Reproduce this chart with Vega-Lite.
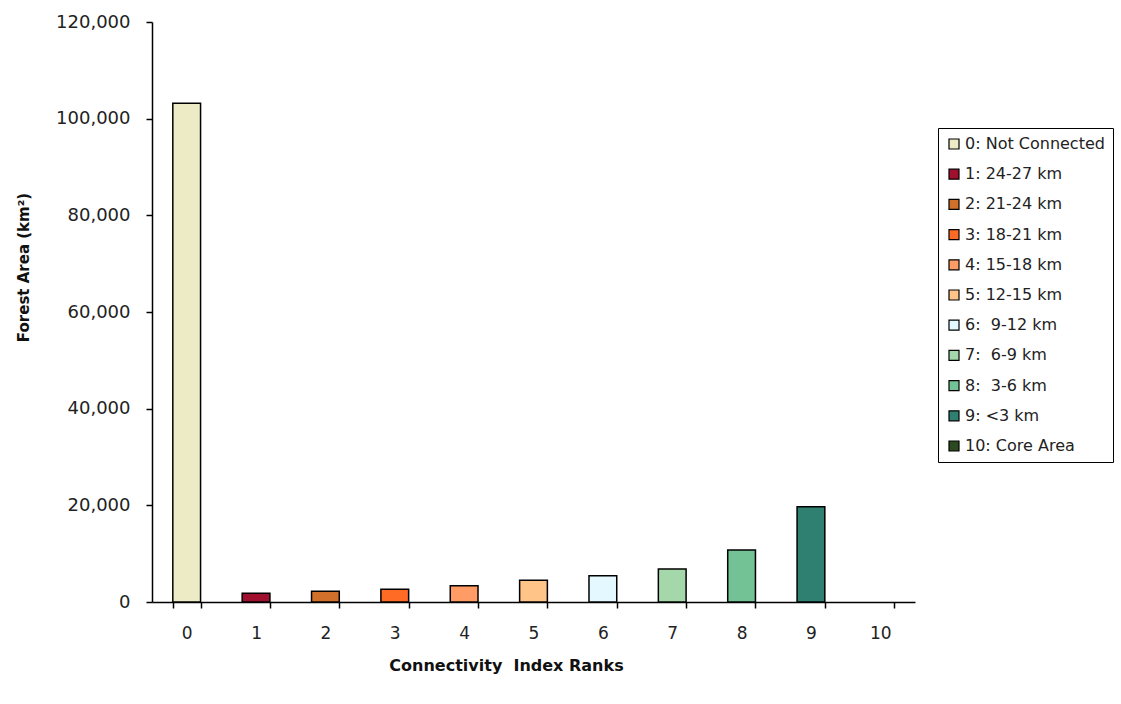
{
  "$schema": "https://vega.github.io/schema/vega-lite/v6.json",
  "width": 763,
  "height": 580,
  "autosize": "none",
  "padding": {"left": 152, "top": 22, "right": 206, "bottom": 102},
  "background": "white",
  "config": {
    "view": {"stroke": null},
    "font": "DejaVu Sans",
    "axis": {"grid": false, "domainColor": "black", "tickColor": "black", "labelColor": "#222", "titleColor": "#111", "labelFont": "DejaVu Sans", "titleFont": "DejaVu Sans", "labelFontSize": 17, "titleFontSize": 15, "titleFontWeight": "bold", "domainWidth": 1.5, "tickWidth": 1.5, "tickSize": 6}
  },
  "data": {
    "values": [
      {"rank": "0", "label": "0: Not Connected", "area": 103200},
      {"rank": "1", "label": "1: 24-27 km", "area": 1800},
      {"rank": "2", "label": "2: 21-24 km", "area": 2250},
      {"rank": "3", "label": "3: 18-21 km", "area": 2650},
      {"rank": "4", "label": "4: 15-18 km", "area": 3350},
      {"rank": "5", "label": "5: 12-15 km", "area": 4500},
      {"rank": "6", "label": "6:\u00a0 9-12 km", "area": 5450},
      {"rank": "7", "label": "7:\u00a0 6-9 km", "area": 6850},
      {"rank": "8", "label": "8:\u00a0 3-6 km", "area": 10750},
      {"rank": "9", "label": "9: <3 km", "area": 19700},
      {"rank": "10", "label": "10: Core Area", "area": 0}
    ]
  },
  "mark": {"type": "bar", "stroke": "black", "strokeWidth": 1.5},
  "encoding": {
    "x": {
      "field": "rank", "type": "ordinal",
      "sort": ["0","1","2","3","4","5","6","7","8","9","10"],
      "scale": {"paddingInner": 0.6, "paddingOuter": 0.3},
      "axis": {"title": "Connectivity\u00a0 Index Ranks", "titleFontSize": 16, "labelAngle": 0, "tickBand": "extent", "labelPadding": 17, "titlePadding": 16, "titleX": 354}
    },
    "y": {
      "field": "area", "type": "quantitative",
      "scale": {"domain": [0, 120000], "nice": false},
      "axis": {"title": "Forest Area (km²)", "values": [0, 20000, 40000, 60000, 80000, 100000, 120000], "format": ",d", "labelFontSize": 18, "labelPadding": 16, "titlePadding": 24, "titleY": 245}
    },
    "strokeOpacity": {"condition": {"test": "datum.area == 0", "value": 0}, "value": 1},
    "color": {
      "field": "label", "type": "nominal",
      "scale": {
        "domain": ["0: Not Connected", "1: 24-27 km", "2: 21-24 km", "3: 18-21 km", "4: 15-18 km", "5: 12-15 km", "6:\u00a0 9-12 km", "7:\u00a0 6-9 km", "8:\u00a0 3-6 km", "9: <3 km", "10: Core Area"],
        "range": ["#ecebc6", "#a0102e", "#d0702a", "#ff6a24", "#ff9c66", "#ffc488", "#e4f8ff", "#a4d8aa", "#72c295", "#2f8070", "#2c4a20"]
      },
      "legend": {
        "title": null, "orient": "none", "legendX": 786, "legendY": 106,
        "symbolType": "square", "symbolSize": 100, "symbolStrokeColor": "black", "symbolStrokeWidth": 1.2,
        "labelFontSize": 16, "labelFont": "DejaVu Sans", "labelColor": "#222",
        "rowPadding": 14.2, "padding": 8, "strokeColor": "black", "fillColor": "white", "labelLimit": 300,
        "symbolOffset": 0, "labelOffset": 3
      }
    }
  }
}
